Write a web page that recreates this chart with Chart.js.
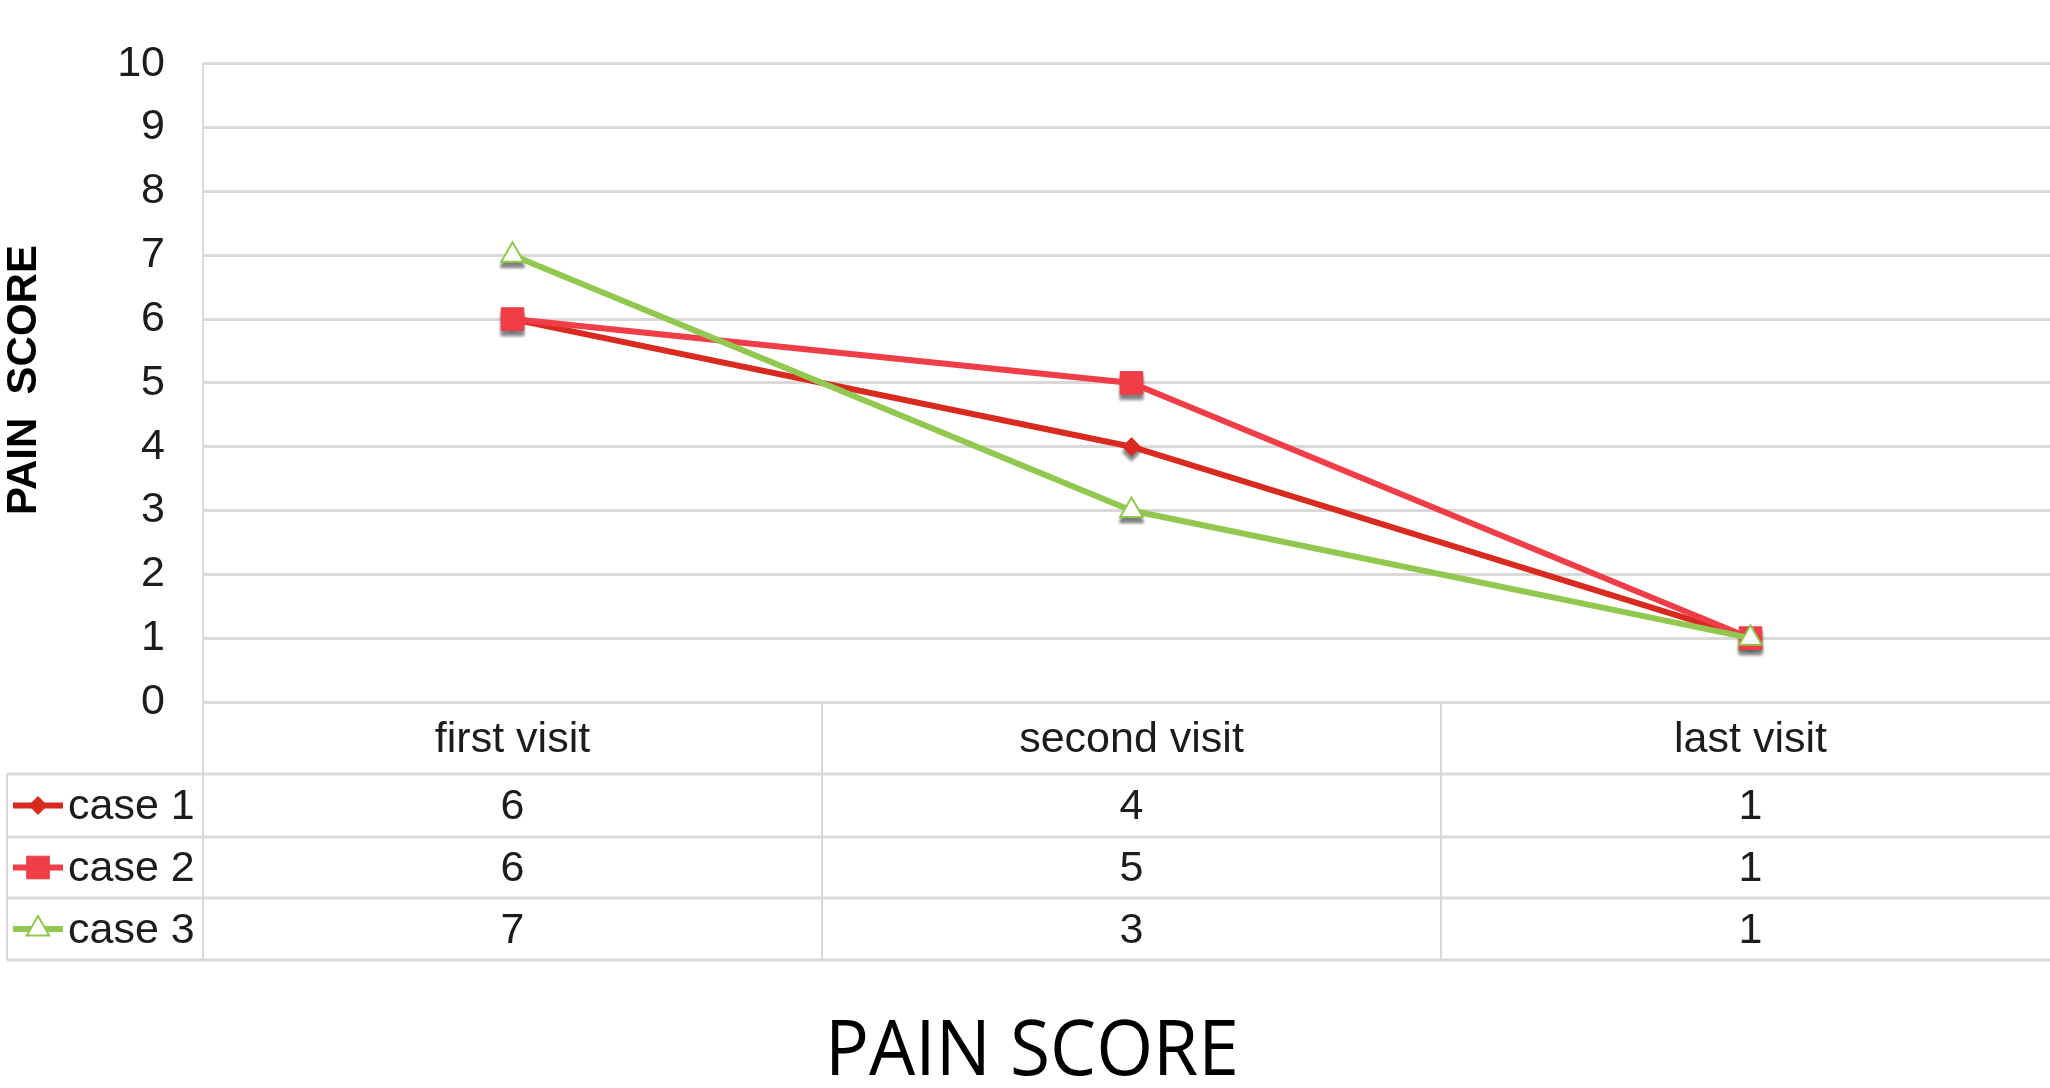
<!DOCTYPE html>
<html>
<head>
<meta charset="utf-8">
<script src="https://cdn.jsdelivr.net/npm/chart.js@4.4.1/dist/chart.umd.min.js"></script>
<style>
  html, body { margin: 0; padding: 0; background: #ffffff; overflow: hidden; }
  #painChart { position: absolute; left: 0; top: 0; }
</style>
</head>
<body>
<canvas id="painChart" width="2062" height="1088"></canvas>
<script>
// Pain score per visit for each case
const categories = ['first visit', 'second visit', 'last visit'];
const seriesNames = ['case 1', 'case 2', 'case 3'];
const case1 = [6, 4, 1];
const case2 = [6, 5, 1];
const case3 = [7, 3, 1];
const yMin = 0;
const yMax = 10;
const yStep = 1;
const chartTitle = 'PAIN SCORE';
const yTitle = 'PAIN  SCORE';

const FONT = '"Liberation Sans", Arial, Helvetica, sans-serif';
const GRID = '#d9d9d9';
const TEXT = '#1c1c1c';

const seriesColors = ['#d82a1f', '#ef3e48', '#92c850'];

// Layout of the data table under the plot
const TABLE_LEFT = 7;
const HEADER_BOTTOM = 774;
const ROW_BOTTOMS = [837, 898, 960];

function setPointColors(ctx, opts) {
  ctx.fillStyle = opts.backgroundColor;
  ctx.strokeStyle = opts.borderColor;
  ctx.lineWidth = opts.borderWidth;
}

// Soft grey drop shadow under each marker
const markerShadow = {
  id: 'markerShadow',
  beforeDatasetsDraw(chart) {
    const ctx = chart.ctx;
    chart.data.datasets.forEach((ds, i) => {
      const meta = chart.getDatasetMeta(i);
      meta.data.forEach(pt => {
        const o = pt.options;
        ctx.save();
        ctx.filter = 'blur(1.5px)';
        ctx.fillStyle = 'rgba(95,95,95,0.8)';
        ctx.strokeStyle = 'rgba(95,95,95,0.8)';
        ctx.lineWidth = o.borderWidth;
        Chart.helpers.drawPoint(ctx, o, pt.x, pt.y + 5);
        ctx.restore();
      });
    });
  }
};

// Data table with legend keys, category header and values
const dataTable = {
  id: 'dataTable',
  afterDraw(chart) {
    const ctx = chart.ctx;
    const xs = chart.scales.x;
    const area = chart.chartArea;
    const band = xs.getPixelForValue(1) - xs.getPixelForValue(0);
    const right = chart.width;
    const rowsData = [case1, case2, case3];

    ctx.save();
    // grid of the table
    ctx.strokeStyle = GRID;
    ctx.lineWidth = 3;
    [HEADER_BOTTOM].concat(ROW_BOTTOMS).forEach(y => {
      ctx.beginPath();
      ctx.moveTo(TABLE_LEFT, y);
      ctx.lineTo(right, y);
      ctx.stroke();
    });
    ctx.lineWidth = 2;
    ctx.beginPath();
    ctx.moveTo(TABLE_LEFT, HEADER_BOTTOM);
    ctx.lineTo(TABLE_LEFT, ROW_BOTTOMS[2]);
    ctx.stroke();
    for (let k = 0; k <= categories.length; k++) {
      const x = area.left + band * k;
      ctx.beginPath();
      ctx.moveTo(x, area.bottom);
      ctx.lineTo(x, ROW_BOTTOMS[2]);
      ctx.stroke();
    }

    // header row
    ctx.fillStyle = TEXT;
    ctx.font = '43px ' + FONT;
    ctx.textAlign = 'center';
    ctx.textBaseline = 'middle';
    const headerMid = (area.bottom + HEADER_BOTTOM) / 2 + 2;
    categories.forEach((c, i) => {
      ctx.fillText(c, xs.getPixelForValue(i), headerMid);
    });

    // value rows with legend keys
    let top = HEADER_BOTTOM;
    rowsData.forEach((vals, r) => {
      const mid = (top + ROW_BOTTOMS[r]) / 2 + 2;
      top = ROW_BOTTOMS[r];
      ctx.fillStyle = TEXT;
      ctx.textAlign = 'center';
      vals.forEach((v, i) => ctx.fillText(String(v), xs.getPixelForValue(i), mid));

      const ds = chart.data.datasets[r];
      ctx.strokeStyle = ds.borderColor;
      ctx.lineWidth = 6;
      ctx.beginPath();
      ctx.moveTo(13, mid - 2);
      ctx.lineTo(63, mid - 2);
      ctx.stroke();
      const opts = {
        pointStyle: ds.pointStyle,
        radius: ds.pointRadius,
        rotation: 0,
        borderWidth: ds.pointBorderWidth,
        backgroundColor: ds.pointBackgroundColor,
        borderColor: ds.pointBorderColor
      };
      setPointColors(ctx, opts);
      Chart.helpers.drawPoint(ctx, opts, 38, mid - 2);

      ctx.fillStyle = TEXT;
      ctx.textAlign = 'left';
      ctx.fillText(seriesNames[r], 68, mid);
    });

    // axis titles
    ctx.fillStyle = '#000000';
    ctx.font = 'bold 42px ' + FONT;
    ctx.textAlign = 'center';
    ctx.textBaseline = 'middle';
    ctx.save();
    ctx.translate(24, 380);
    ctx.rotate(-Math.PI / 2);
    ctx.fillText(yTitle, 0, 0);
    ctx.restore();

    ctx.font = '76px "Open Sans", ' + FONT;
    ctx.textBaseline = 'alphabetic';
    ctx.save();
    ctx.translate(1032, 1075);
    ctx.scale(0.963, 1);
    ctx.fillText(chartTitle, 0, 0);
    ctx.restore();
    ctx.restore();
  }
};

const ctx = document.getElementById('painChart').getContext('2d');
new Chart(ctx, {
  type: 'line',
  data: {
    labels: categories,
    datasets: [
      {
        label: seriesNames[0],
        data: case1,
        borderColor: seriesColors[0],
        backgroundColor: seriesColors[0],
        borderWidth: 6,
        pointStyle: 'rectRot',
        pointRadius: 9,
        pointBorderWidth: 1,
        pointBackgroundColor: seriesColors[0],
        pointBorderColor: seriesColors[0],
        order: 3
      },
      {
        label: seriesNames[1],
        data: case2,
        borderColor: seriesColors[1],
        backgroundColor: seriesColors[1],
        borderWidth: 6,
        pointStyle: 'rect',
        pointRadius: 16,
        pointBorderWidth: 1,
        pointBackgroundColor: seriesColors[1],
        pointBorderColor: seriesColors[1],
        order: 2
      },
      {
        label: seriesNames[2],
        data: case3,
        borderColor: seriesColors[2],
        backgroundColor: seriesColors[2],
        borderWidth: 6,
        pointStyle: 'triangle',
        pointRadius: 13,
        pointBorderWidth: 2,
        pointBackgroundColor: '#ffffff',
        pointBorderColor: seriesColors[2],
        order: 1
      }
    ]
  },
  options: {
    responsive: false,
    maintainAspectRatio: false,
    animation: false,
    layout: { autoPadding: false, padding: { left: 0, top: 59, right: 2, bottom: 386 } },
    plugins: {
      legend: { display: false },
      title: { display: false },
      tooltip: { enabled: false }
    },
    elements: { line: { tension: 0 } },
    scales: {
      x: {
        display: false,
        offset: true
      },
      y: {
        min: yMin,
        max: yMax,
        afterFit(scale) { scale.width = 203; },
        ticks: {
          stepSize: yStep,
          padding: 38,
          color: TEXT,
          font: { family: FONT, size: 43 }
        },
        grid: { color: GRID, lineWidth: 3, drawTicks: false },
        border: { display: true, color: GRID, width: 2 }
      }
    }
  },
  plugins: [markerShadow, dataTable]
});
</script>
</body>
</html>
